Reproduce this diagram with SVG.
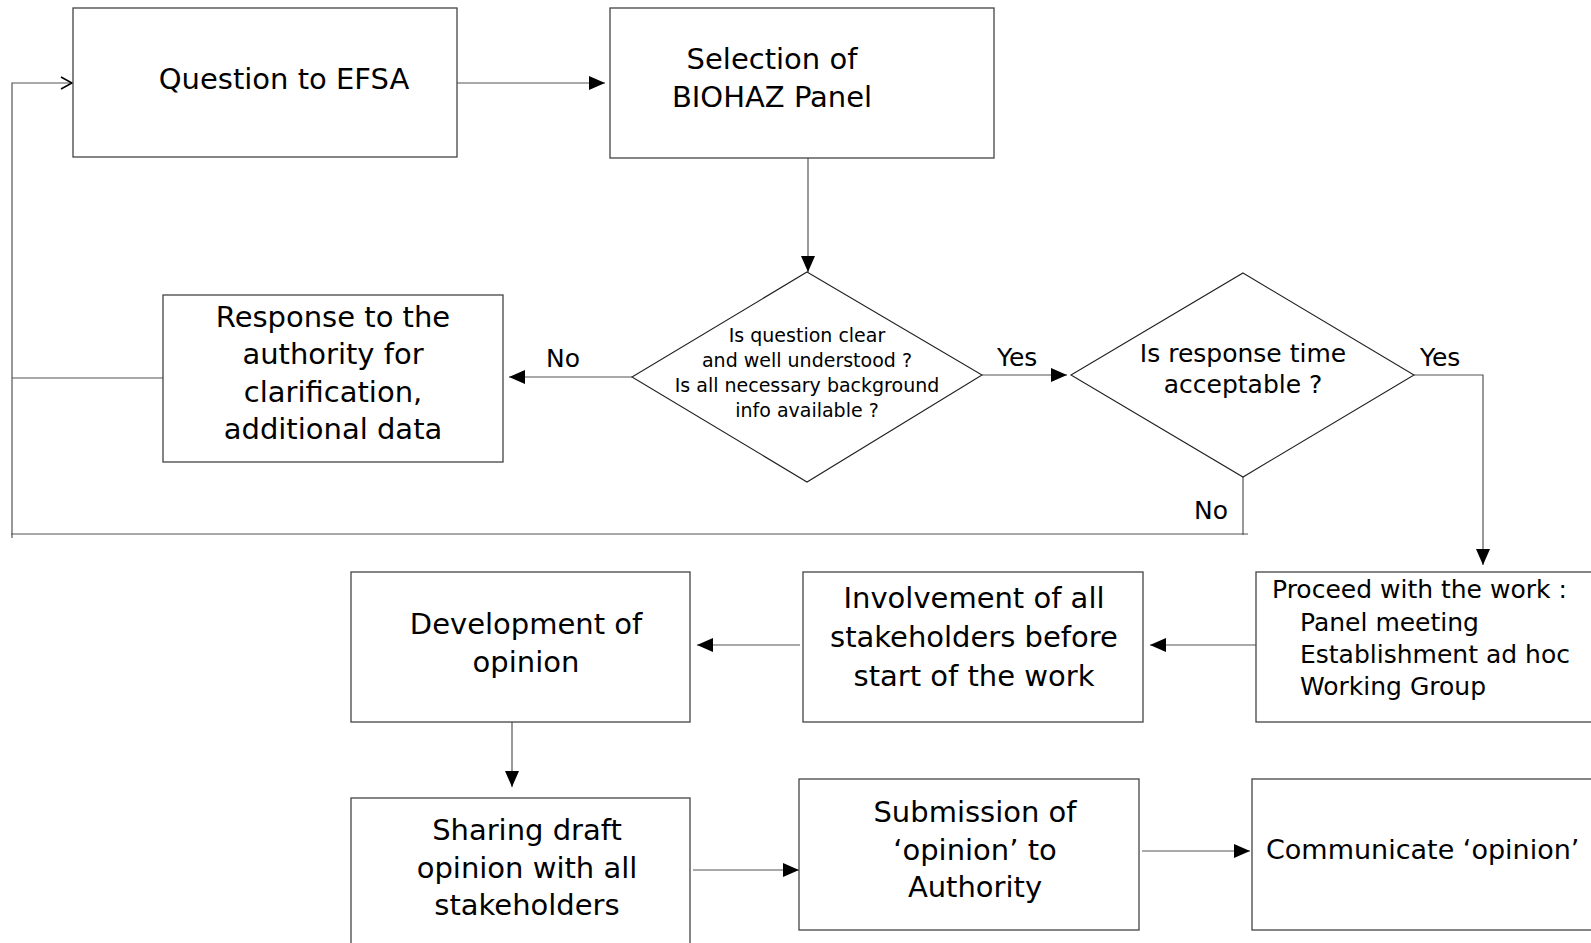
<svg xmlns="http://www.w3.org/2000/svg" width="1591" height="943" viewBox="0 0 1591 943">
<style>
.box{fill:#fff;stroke:#444;stroke-width:1.3}
.dia{fill:#fff;stroke:#222;stroke-width:1.1}
.ln{fill:none;stroke:#555;stroke-width:1.2}
text{font-family:"DejaVu Sans","Liberation Sans",sans-serif;fill:#000}
.t{font-size:29px;text-anchor:middle}
.s{font-size:19px;text-anchor:middle}
.m{font-size:25px;text-anchor:middle}
.l{font-size:25px}
</style>
<defs>
<marker id="ah" markerUnits="userSpaceOnUse" markerWidth="16" markerHeight="14" refX="16" refY="7" orient="auto">
<path d="M0,0 L16,7 L0,14 z" fill="#000"/>
</marker>
<marker id="oh" markerUnits="userSpaceOnUse" markerWidth="14" markerHeight="14" refX="12" refY="7" orient="auto">
<path d="M1,1 L12,7 L1,13" fill="none" stroke="#000" stroke-width="1.5"/>
</marker>
</defs>
<g id="connectors">
<path class="ln" d="M12,538 L12,83 L72,83" marker-end="url(#oh)"/>
<path class="ln" d="M163,378 L12,378"/>
<path class="ln" d="M1248,534 L11,534"/>
<path class="ln" d="M457,83 L605,83" marker-end="url(#ah)"/>
<path class="ln" d="M808,158 L808,272" marker-end="url(#ah)"/>
<path class="ln" d="M632,377 L509,377" marker-end="url(#ah)"/>
<path class="ln" d="M982,375 L1067,375" marker-end="url(#ah)"/>
<path class="ln" d="M1414,375 L1483,375 L1483,565" marker-end="url(#ah)"/>
<path class="ln" d="M1243,477 L1243,535"/>
<path class="ln" d="M1256,645 L1150,645" marker-end="url(#ah)"/>
<path class="ln" d="M800,645 L697,645" marker-end="url(#ah)"/>
<path class="ln" d="M512,718 L512,787" marker-end="url(#ah)"/>
<path class="ln" d="M693,870 L799,870" marker-end="url(#ah)"/>
<path class="ln" d="M1142,851 L1250,851" marker-end="url(#ah)"/>
<text class="l" x="546" y="367">No</text>
<text class="l" x="997" y="366">Yes</text>
<text class="l" x="1420" y="366">Yes</text>
<text class="l" x="1194" y="519">No</text>
</g>
<g id="question">
<rect class="box" x="73" y="8" width="384" height="149"/>
<text class="t" x="284" y="89">Question to EFSA</text>
</g>
<g id="selection">
<rect class="box" x="610" y="8" width="384" height="150"/>
<text class="t" x="772" y="69">Selection of</text>
<text class="t" x="772" y="107">BIOHAZ Panel</text>
</g>
<g id="response">
<rect class="box" x="163" y="295" width="340" height="167"/>
<text class="t" x="333" y="327">Response to the</text>
<text class="t" x="333" y="364">authority for</text>
<text class="t" x="333" y="402">clarification,</text>
<text class="t" x="333" y="439">additional data</text>
</g>
<g id="clear-question">
<polygon class="dia" points="807,272 982,375 807,482 632,377"/>
<text class="s" x="807" y="342">Is question clear</text>
<text class="s" x="807" y="367">and well understood ?</text>
<text class="s" x="807" y="392">Is all necessary background</text>
<text class="s" x="807" y="417">info available ?</text>
</g>
<g id="response-time">
<polygon class="dia" points="1243,273 1414,375 1243,477 1071,375"/>
<text class="m" x="1243" y="362">Is response time</text>
<text class="m" x="1243" y="393">acceptable ?</text>
</g>
<g id="proceed">
<rect class="box" x="1256" y="572" width="345" height="150"/>
<text class="l" x="1272" y="598">Proceed with the work :</text>
<text class="l" x="1300" y="631">Panel meeting</text>
<text class="l" x="1300" y="663">Establishment ad hoc</text>
<text class="l" x="1300" y="695">Working Group</text>
</g>
<g id="involvement">
<rect class="box" x="803" y="572" width="340" height="150"/>
<text class="t" x="974" y="608">Involvement of all</text>
<text class="t" x="974" y="647">stakeholders before</text>
<text class="t" x="974" y="686">start of the work</text>
</g>
<g id="development">
<rect class="box" x="351" y="572" width="339" height="150"/>
<text class="t" x="526" y="634">Development of</text>
<text class="t" x="526" y="672">opinion</text>
</g>
<g id="sharing">
<rect class="box" x="351" y="798" width="339" height="160"/>
<text class="t" x="527" y="840">Sharing draft</text>
<text class="t" x="527" y="878">opinion with all</text>
<text class="t" x="527" y="915">stakeholders</text>
</g>
<g id="submission">
<rect class="box" x="799" y="779" width="340" height="151"/>
<text class="t" x="975" y="822">Submission of</text>
<text class="t" x="975" y="860">‘opinion’ to</text>
<text class="t" x="975" y="897">Authority</text>
</g>
<g id="communicate">
<rect class="box" x="1252" y="779" width="350" height="151"/>
<text x="1266" y="859" font-size="27">Communicate ‘opinion’</text>
</g>
</svg>
